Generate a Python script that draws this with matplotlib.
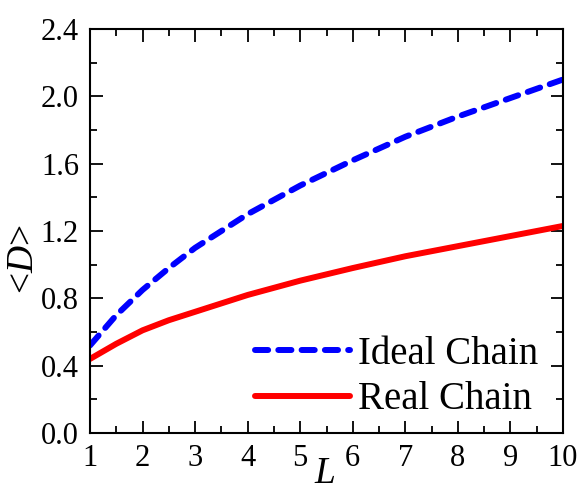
import numpy as np
import matplotlib
matplotlib.use("Agg")
import matplotlib.pyplot as plt

plt.rcParams["font.family"] = "Liberation Serif"
plt.rcParams["mathtext.fontset"] = "custom"
plt.rcParams["mathtext.rm"] = "Liberation Serif"
plt.rcParams["mathtext.it"] = "Liberation Serif:italic"

# Datos
L_vals = [1, 1.5, 2, 2.5, 3, 4, 5, 6, 7, 8, 9, 10]
ideal = [0.52, 0.70, 0.85, 0.98, 1.10, 1.30, 1.47, 1.62, 1.76, 1.88, 1.99, 2.10]
real = [0.44, 0.53, 0.61, 0.67, 0.72, 0.82, 0.905, 0.98, 1.05, 1.11, 1.17, 1.23]

fig = plt.figure(figsize=(5.79, 4.97), dpi=100)
ax = fig.add_axes([90 / 579, 1 - 433 / 497, 473 / 579, 404 / 497])

ax.plot(L_vals, ideal, color="blue", lw=4.3, linestyle=(0, (2.2, 1.7)),
        dash_capstyle="round", label="Ideal Chain")
ax.plot(L_vals, real, color="red", lw=4.3, solid_capstyle="round",
        label="Real Chain")

ax.set_xlim(1, 10)
ax.set_ylim(0, 2.4)
ax.set_xticks(range(1, 11))
ax.set_yticks(np.arange(0, 2.41, 0.4))
ax.set_yticklabels([f"{v:.1f}" for v in np.arange(0, 2.41, 0.4)])
ax.set_xticks(np.arange(1.5, 10, 1), minor=True)
ax.set_yticks(np.arange(0.2, 2.4, 0.4), minor=True)

ax.tick_params(which="both", direction="in", top=True, right=True,
               labelsize=22, width=1.3, pad=8)
ax.tick_params(which="major", length=9)
ax.tick_params(which="minor", length=5)
for s in ax.spines.values():
    s.set_linewidth(1.5)

ax.set_xlabel("$L$", fontsize=27)
ax.set_ylabel("<$D$>", fontsize=27)
ax.xaxis.set_label_coords(0.497, -0.058)
ax.yaxis.set_label_coords(-0.104, 0.43)

ax.legend(loc="lower right", frameon=False, fontsize=28, handlelength=2.45,
          handletextpad=0.2, borderaxespad=0, borderpad=0, labelspacing=0.22,
          bbox_to_anchor=(0.948, 0.036))

plt.savefig("out.png", dpi=100)
plt.close()
